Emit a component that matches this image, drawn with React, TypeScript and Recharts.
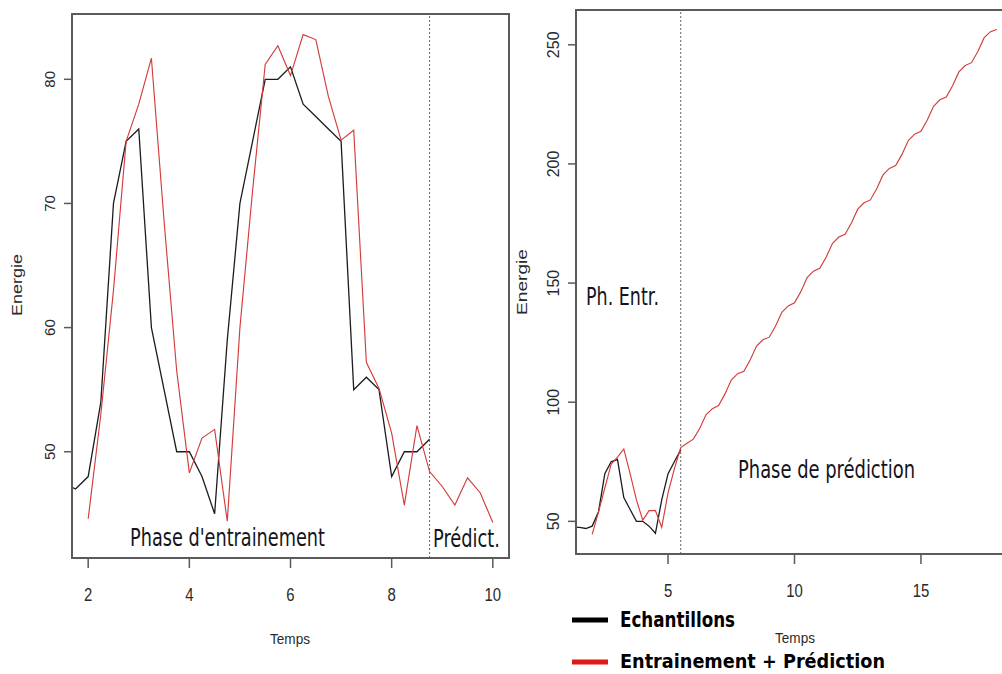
import { LineChart, Line, XAxis, YAxis, ReferenceLine, ReferenceArea } from 'recharts';

// Echantillons (mesures), quarter-step times
const tempsEch = [
  1.25, 1.5, 1.75, 2, 2.25, 2.5, 2.75, 3, 3.25, 3.5, 3.75, 4, 4.25, 4.5, 4.75, 5,
  5.25, 5.5, 5.75, 6, 6.25, 6.5, 6.75, 7, 7.25, 7.5, 7.75, 8, 8.25, 8.5, 8.75,
];
const echantillons = [
  47.5, 47.5, 47, 48, 54, 70, 75, 76, 60, 55, 50, 50, 48, 45, 59, 70,
  75, 80, 80, 81, 78, 77, 76, 75, 55, 56, 55, 48, 50, 50, 51,
];

// left panel: entrainement up to 8.75, then prediction to 10
const tempsGauche = [
  2, 2.25, 2.5, 2.75, 3, 3.25, 3.5, 3.75, 4, 4.25, 4.5, 4.75, 5, 5.25, 5.5, 5.75,
  6, 6.25, 6.5, 6.75, 7, 7.25, 7.5, 7.75, 8, 8.25, 8.5, 8.75, 9, 9.25, 9.5, 9.75, 10,
];
const entrPredGauche = [
  44.6, 53, 63, 75, 78, 81.7, 68.6, 56.5, 48.3, 51.1, 51.8, 44.4, 60, 71, 81.2, 82.7,
  80.3, 83.6, 83.2, 78.6, 75.1, 75.9, 57.2, 55.1, 51.5, 45.7, 52.1, 48.4, 47.2, 45.7, 47.9, 46.7, 44.3,
];

// right panel: entrainement up to 5.5, then prediction to 18
const tempsDroite = [
  2, 2.25, 2.5, 2.75, 3, 3.25, 3.5, 3.75, 4, 4.25, 4.5, 4.75, 5, 5.25, 5.5, 5.75,
  6, 6.25, 6.5, 6.75, 7, 7.25, 7.5, 7.75, 8, 8.25, 8.5, 8.75, 9, 9.25, 9.5, 9.75,
  10, 10.25, 10.5, 10.75, 11, 11.25, 11.5, 11.75, 12, 12.25, 12.5, 12.75, 13, 13.25, 13.5, 13.75,
  14, 14.25, 14.5, 14.75, 15, 15.25, 15.5, 15.75, 16, 16.25, 16.5, 16.75, 17, 17.25, 17.5, 17.75, 18,
];
const entrPredDroite = [
  44.5, 54, 64, 74, 77, 80.4, 70, 59, 50.5, 54.5, 54.5, 47.5, 62, 72, 81, 82.8,
  84.5, 89, 94.7, 97.3, 98.6, 103.5, 109.3, 112, 113, 117.8, 123.6, 126.2, 127.3, 132, 137.7, 140.4,
  141.7, 146.4, 152.3, 155, 156.2, 160.8, 166.6, 169.3, 170.5, 175.2, 181, 183.7, 184.9, 189.6, 195.4, 198.1,
  199.3, 204, 209.8, 212.5, 213.7, 218.4, 224.2, 226.9, 228.1, 232.8, 238.6, 241.3, 242.5, 247.2, 253, 255.5, 256.4,
];

const ticksXGauche = [2, 4, 6, 8, 10];
const ticksYGauche = [50, 60, 70, 80];
const ticksXDroite = [5, 10, 15];
const ticksYDroite = [50, 100, 150, 200, 250];

const finEntrGauche = 8.75;
const finEntrDroite = 5.5;

const NOIR = '#1c1c1c';
const ROUGE = '#d43c3c';
const GRIS = '#5a5a5a';

const toPoints = (xs: number[], ys: number[]) => xs.map((x, i) => ({ x, y: ys[i] }));

const XTick = (props: any) => {
  const { x, y, payload } = props;
  const s = String(payload.value);
  return (
    <text x={x} y={y + 33} textAnchor="middle" fontFamily="Liberation Sans" fontSize={18} fill="#2a2a2a"
      textLength={s.length * 8.3} lengthAdjust="spacingAndGlyphs">{s}</text>
  );
};

const YTick = (props: any) => {
  const { x, y, payload, fontSize } = props;
  const bx = x - 9;
  return (
    <text x={bx} y={y} transform={`rotate(-90 ${bx} ${y})`} textAnchor="middle" fontFamily="Liberation Sans"
      fontSize={fontSize} fill="#2a2a2a">{payload.value}</text>
  );
};

function Panel(props: {
  width: number; height: number; margin: any; yWidth: number; xHeight: number;
  xDomain: [number, number]; yDomain: [number, number]; xTicks: number[]; yTicks: number[];
  yFont: number; ech: { x: number; y: number }[]; pred: { x: number; y: number }[]; split: number;
}) {
  const { xDomain, yDomain } = props;
  return (
    <LineChart width={props.width} height={props.height} margin={props.margin}>
      <XAxis type="number" dataKey="x" domain={xDomain} allowDataOverflow ticks={props.xTicks}
        height={props.xHeight} tickSize={10} tickMargin={0} interval={0}
        axisLine={{ stroke: GRIS, strokeWidth: 2 }} tickLine={{ stroke: GRIS, strokeWidth: 1.5 }} tick={<XTick />} />
      <YAxis type="number" dataKey="y" domain={yDomain} allowDataOverflow ticks={props.yTicks}
        width={props.yWidth} tickSize={8} tickMargin={0} interval={0}
        axisLine={{ stroke: GRIS, strokeWidth: 2 }} tickLine={{ stroke: GRIS, strokeWidth: 1.5 }}
        tick={<YTick fontSize={props.yFont} />} />
      <ReferenceArea x1={xDomain[0]} x2={xDomain[1]} y1={yDomain[0]} y2={yDomain[1]}
        fill="none" stroke={GRIS} strokeWidth={2} fillOpacity={0} />
      <ReferenceLine x={props.split} stroke="#666" strokeDasharray="2 2" strokeWidth={1} />
      <Line data={props.ech} dataKey="y" type="linear" stroke={NOIR} strokeWidth={1.3} dot={false}
        isAnimationActive={false} />
      <Line data={props.pred} dataKey="y" type="linear" stroke={ROUGE} strokeWidth={1.15} dot={false}
        isAnimationActive={false} />
    </LineChart>
  );
}

export default function App() {
  const echG = toPoints(tempsEch, echantillons);
  const predG = toPoints(tempsGauche, entrPredGauche);
  const echD = toPoints(tempsEch.slice(0, 18), echantillons.slice(0, 18));
  const predD = toPoints(tempsDroite, entrPredDroite);

  const txt = { fontFamily: 'DejaVu Sans', fill: '#141420', lengthAdjust: 'spacingAndGlyphs' } as any;
  const axt = { fontFamily: 'Liberation Sans', fill: '#2a2a2a', lengthAdjust: 'spacingAndGlyphs' } as any;

  return (
    <div style={{ position: 'absolute', left: 0, top: 0, width: 1002, height: 674, overflow: 'hidden', background: '#fff' }}>
      <div style={{ position: 'absolute', left: 0, top: 0 }}>
        <Panel width={520} height={674} margin={{ top: 14, right: 11, bottom: 0, left: 0 }} yWidth={72} xHeight={116}
          xDomain={[1.68, 10.32]} yDomain={[41.44, 85.26]} xTicks={ticksXGauche} yTicks={ticksYGauche} yFont={15}
          ech={echG} pred={predG} split={finEntrGauche} />
      </div>
      <div style={{ position: 'absolute', left: 500, top: 0 }}>
        <Panel width={520} height={674} margin={{ top: 10, right: 7, bottom: 0, left: 0 }} yWidth={76} xHeight={120}
          xDomain={[1.36, 18.64]} yDomain={[36.3, 264.6]} xTicks={ticksXDroite} yTicks={ticksYDroite} yFont={16}
          ech={echD} pred={predD} split={finEntrDroite} />
      </div>
      <svg width={1002} height={674} style={{ position: 'absolute', left: 0, top: 0, pointerEvents: 'none' }}>
        {/* axis titles */}
        <text x={290} y={644} textAnchor="middle" fontSize={15} textLength={40} {...axt}>Temps</text>
        <text x={795} y={643} textAnchor="middle" fontSize={15} textLength={40} {...axt}>Temps</text>
        <text x={22} y={285} transform="rotate(-90 22 285)" textAnchor="middle" fontSize={15} textLength={62} {...axt}>Energie</text>
        <text x={527} y={282} transform="rotate(-90 527 282)" textAnchor="middle" fontSize={15} textLength={66} {...axt}>Energie</text>
        {/* phase annotations */}
        <text x={130} y={546} fontSize={25} textLength={195} {...txt}>Phase d'entrainement</text>
        <text x={433} y={547} fontSize={25} textLength={67} {...txt}>Prédict.</text>
        <text x={586} y={305} fontSize={25} textLength={73} {...txt}>Ph. Entr.</text>
        <text x={738} y={478} fontSize={24} textLength={177} {...txt}>Phase de prédiction</text>
        {/* legend */}
        <line x1={572} x2={608} y1={620} y2={620} stroke="#000" strokeWidth={5} />
        <line x1={572} x2={608} y1={662} y2={662} stroke="#e01818" strokeWidth={5} />
        <text x={620} y={627} fontSize={21} fontWeight="bold" textLength={115} {...txt} fill="#000">Echantillons</text>
        <text x={620} y={668} fontSize={20} fontWeight="bold" textLength={265} {...txt} fill="#000">Entrainement + Prédiction</text>
      </svg>
    </div>
  );
}
